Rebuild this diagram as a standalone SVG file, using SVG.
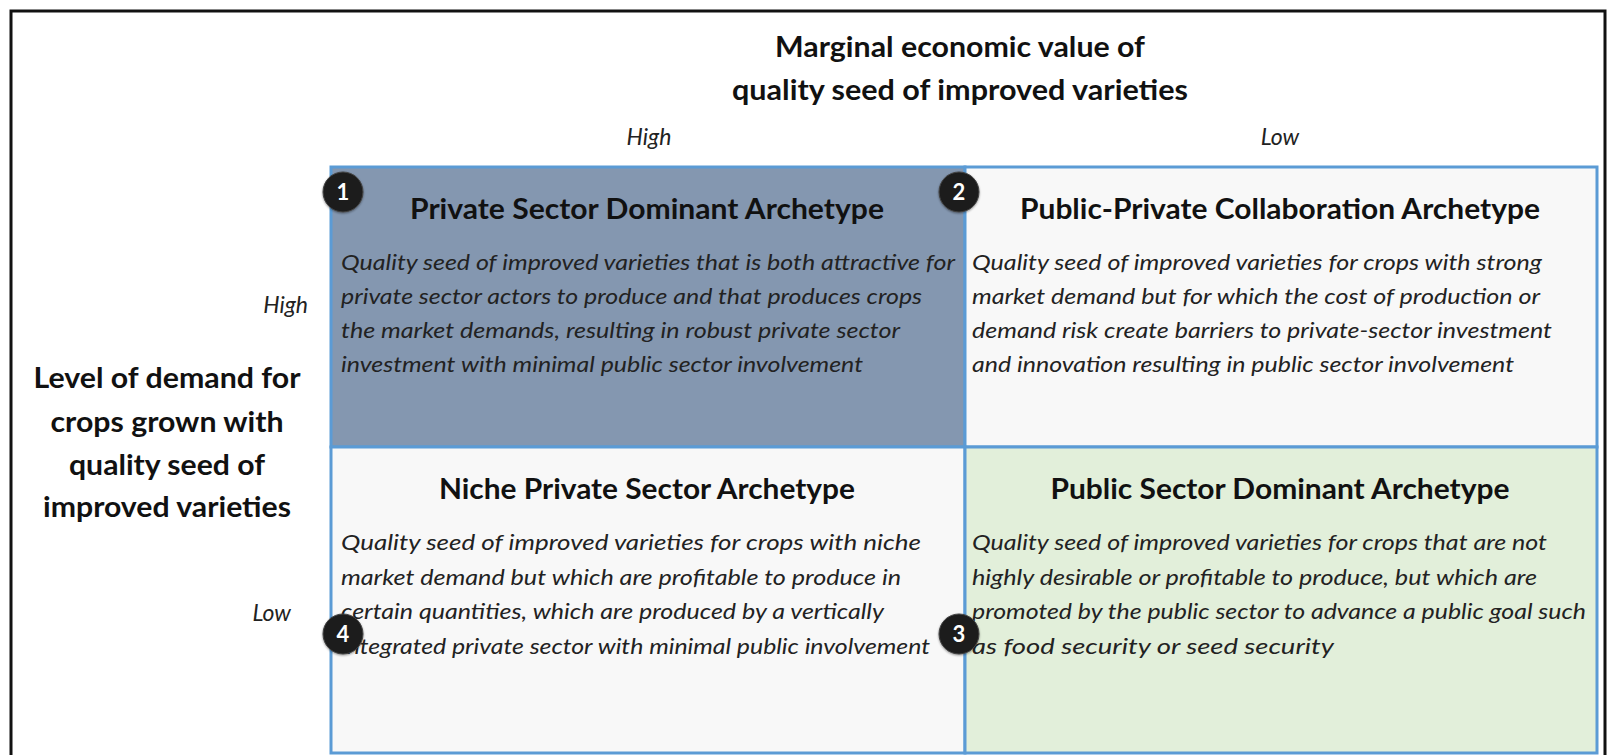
<svg xmlns="http://www.w3.org/2000/svg" width="1610" height="755" viewBox="0 0 1610 755">
<style>
.ax{font-family:Lato,"Open Sans","Liberation Sans",sans-serif;font-weight:bold;font-size:28px;fill:#111;text-anchor:middle}
.hl{font-family:Lato,"Open Sans","Liberation Sans",sans-serif;font-style:italic;font-size:23px;fill:#222}
.tt{font-family:Lato,"Open Sans","Liberation Sans",sans-serif;font-weight:bold;font-size:28px;fill:#111;text-anchor:middle}
.bd{font-family:Lato,"Open Sans","Liberation Sans",sans-serif;font-style:italic;font-size:22px;fill:#222}
.cell{stroke:#5B9BD5;stroke-width:3}
.num{fill:#1E1E1E;stroke:#444;stroke-width:1}
.nt{font-family:Lato,"Liberation Sans",sans-serif;font-weight:bold;font-size:22px;fill:#fff;text-anchor:middle}
</style>
<defs>
<filter id="sh" x="-30%" y="-30%" width="160%" height="160%"><feDropShadow dx="0" dy="1" stdDeviation="1.2" flood-color="#000" flood-opacity="0.4"/></filter>
</defs>
<rect x="0" y="0" width="1610" height="755" fill="#fff"/>
<path d="M11 760 V11 H1605 V760" fill="none" stroke="#111" stroke-width="3"/>
<g id="axis-top">
<text class="ax" x="960" y="57" textLength="370" lengthAdjust="spacingAndGlyphs">Marginal economic value of</text>
<text class="ax" x="960" y="100" textLength="456" lengthAdjust="spacingAndGlyphs">quality seed of improved varieties</text>
<text class="hl" x="649" y="145" text-anchor="middle">High</text>
<text class="hl" x="1280" y="145" text-anchor="middle">Low</text>
</g>
<g id="axis-left">
<text class="ax" x="167" y="388" textLength="267" lengthAdjust="spacingAndGlyphs">Level of demand for</text>
<text class="ax" x="167" y="432" textLength="233" lengthAdjust="spacingAndGlyphs">crops grown with</text>
<text class="ax" x="167" y="475" textLength="196" lengthAdjust="spacingAndGlyphs">quality seed of</text>
<text class="ax" x="167" y="517" textLength="248" lengthAdjust="spacingAndGlyphs">improved varieties</text>
<text class="hl" x="308" y="313" text-anchor="end">High</text>
<text class="hl" x="291" y="621" text-anchor="end">Low</text>
</g>
<g id="cell-1">
<rect class="cell" x="331" y="167" width="634" height="280" fill="#8497B0"/>
<text class="tt" x="647" y="219" textLength="474" lengthAdjust="spacingAndGlyphs">Private Sector Dominant Archetype</text>
<text class="bd" x="341" y="270" textLength="614" lengthAdjust="spacingAndGlyphs">Quality seed of improved varieties that is both attractive for</text>
<text class="bd" x="341" y="304" textLength="581" lengthAdjust="spacingAndGlyphs">private sector actors to produce and that produces crops</text>
<text class="bd" x="341" y="338" textLength="559" lengthAdjust="spacingAndGlyphs">the market demands, resulting in robust private sector</text>
<text class="bd" x="341" y="372" textLength="522" lengthAdjust="spacingAndGlyphs">investment with minimal public sector involvement</text>
</g>
<g id="cell-2">
<rect class="cell" x="965" y="167" width="632" height="280" fill="#F8F8F8"/>
<text class="tt" x="1280" y="219" textLength="520" lengthAdjust="spacingAndGlyphs">Public-Private Collaboration Archetype</text>
<text class="bd" x="972" y="270" textLength="570" lengthAdjust="spacingAndGlyphs">Quality seed of improved varieties for crops with strong</text>
<text class="bd" x="972" y="304" textLength="568" lengthAdjust="spacingAndGlyphs">market demand but for which the cost of production or</text>
<text class="bd" x="972" y="338" textLength="580" lengthAdjust="spacingAndGlyphs">demand risk create barriers to private-sector investment</text>
<text class="bd" x="972" y="372" textLength="542" lengthAdjust="spacingAndGlyphs">and innovation resulting in public sector involvement</text>
</g>
<g id="cell-4">
<rect class="cell" x="331" y="447" width="634" height="306" fill="#F8F8F8"/>
<text class="tt" x="647" y="499" textLength="416" lengthAdjust="spacingAndGlyphs">Niche Private Sector Archetype</text>
<text class="bd" x="341" y="550" textLength="580" lengthAdjust="spacingAndGlyphs">Quality seed of improved varieties for crops with niche</text>
<text class="bd" x="341" y="585" textLength="560" lengthAdjust="spacingAndGlyphs">market demand but which are profitable to produce in</text>
<text class="bd" x="341" y="619" textLength="543" lengthAdjust="spacingAndGlyphs">certain quantities, which are produced by a vertically</text>
<text class="bd" x="341" y="654" textLength="589" lengthAdjust="spacingAndGlyphs">integrated private sector with minimal public involvement</text>
</g>
<g id="cell-3">
<rect class="cell" x="965" y="447" width="632" height="306" fill="#E2EFDA"/>
<text class="tt" x="1280" y="499" textLength="459" lengthAdjust="spacingAndGlyphs">Public Sector Dominant Archetype</text>
<text class="bd" x="972" y="550" textLength="575" lengthAdjust="spacingAndGlyphs">Quality seed of improved varieties for crops that are not</text>
<text class="bd" x="972" y="585" textLength="565" lengthAdjust="spacingAndGlyphs">highly desirable or profitable to produce, but which are</text>
<text class="bd" x="972" y="619" textLength="614" lengthAdjust="spacingAndGlyphs">promoted by the public sector to advance a public goal such</text>
<text class="bd" x="972" y="654" textLength="362" lengthAdjust="spacingAndGlyphs">as food security or seed security</text>
</g>
<g id="badge-1"><circle class="num" cx="343" cy="192" r="20" filter="url(#sh)"/><text class="nt" x="343" y="200">1</text></g>
<g id="badge-2"><circle class="num" cx="959" cy="192" r="20" filter="url(#sh)"/><text class="nt" x="959" y="200">2</text></g>
<g id="badge-4"><circle class="num" cx="343" cy="634" r="20" filter="url(#sh)"/><text class="nt" x="343" y="642">4</text></g>
<g id="badge-3"><circle class="num" cx="959" cy="634" r="20" filter="url(#sh)"/><text class="nt" x="959" y="642">3</text></g>
<g id="connectors"></g>
</svg>
